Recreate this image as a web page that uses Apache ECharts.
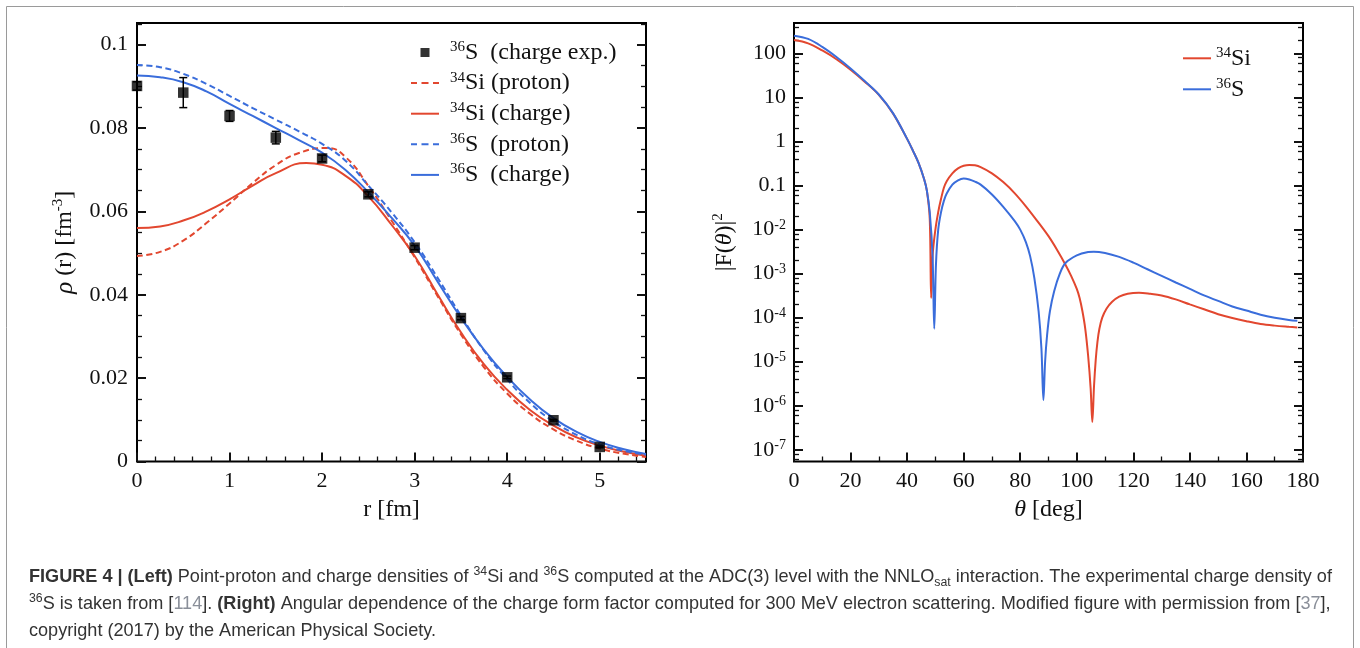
<!DOCTYPE html>
<html><head><meta charset="utf-8">
<script src="https://cdn.jsdelivr.net/npm/echarts@6/dist/echarts.min.js"></script>
<style>html,body{margin:0;padding:0;background:#fff;}#c{width:1360px;height:648px;}</style>
</head><body><div id="c"></div>
<script>
// ---------------- data ----------------
const rValues = [0,0.25,0.5,0.75,1,1.25,1.5,1.75,2,2.25,2.5,2.75,3,3.25,3.5,3.75,4,4.25,4.5,4.75,5,5.25,5.5];
const rSi34Proton = [0,0.25,0.5,0.75,1,1.25,1.5,1.75,2.05,2.25,2.5,2.75,3,3.25,3.5,3.75,4,4.25,4.5,4.75,5,5.25,5.5];
const si34Proton  = [0.0493,0.0503,0.0530,0.0572,0.0619,0.0668,0.0711,0.0740,0.0752,0.0731,0.0661,0.0578,0.0490,0.0396,0.0305,0.0226,0.0163,0.0114,0.0077,0.0050,0.0031,0.0019,0.0011];
const rSi34Charge = [0,0.25,0.5,0.75,1,1.25,1.5,1.83,2,2.25,2.5,2.75,3,3.25,3.5,3.75,4,4.25,4.5,4.75,5,5.25,5.5];
const si34Charge  = [0.0560,0.0564,0.0578,0.0600,0.0629,0.0662,0.0692,0.0716,0.0712,0.0686,0.0636,0.0568,0.0493,0.0400,0.0310,0.0233,0.0172,0.0123,0.0086,0.0058,0.0038,0.0024,0.0014];
const s36Proton  = [0.0951,0.0946,0.0930,0.0906,0.0877,0.0848,0.0820,0.0792,0.0762,0.0722,0.0662,0.0598,0.0526,0.0440,0.0350,0.0266,0.0197,0.0140,0.0096,0.0064,0.0041,0.0026,0.0016];
const s36Charge  = [0.0926,0.0922,0.0910,0.0888,0.0858,0.0829,0.0800,0.0771,0.0741,0.0700,0.0646,0.0585,0.0518,0.0431,0.0345,0.0268,0.0203,0.0148,0.0104,0.0071,0.0047,0.0030,0.0018];
const expR   = [0,0.5,1,1.5,2,2.5,3,3.5,4,4.5,5];
const expRho = [0.0901,0.0885,0.0829,0.0777,0.0727,0.0641,0.0513,0.0344,0.0202,0.0099,0.0035];
const expErr = [0.0010,0.0036,0.0013,0.0015,0.0008,0.0006,0.0005,0.0004,0.0003,0.0002,0.0002];

const thetaSi34 = [0,5,10,15,20,25,30,35,40,42,44,46,47,48,48.5,49,50,51,52,53,54,56,58,60,62,64,66,70,74,78,82,86,90,93,96,98,100,101,102,103,104,104.9,105.5,106.1,106.7,107.3,108,109,110.5,112.5,115,118,122,126,130,135,140,145,150,155,160,165,170,175,178];
const formSi34  = [202,170,117,74.1,42.7,22.9,11.5,4.37,1.15,0.631,0.331,0.141,0.0759,0.0178,2.8e-4,2.5e-3,0.010,0.025,0.050,0.089,0.126,0.19,0.245,0.282,0.295,0.288,0.263,0.19,0.120,0.0676,0.0339,0.0158,7.1e-3,3.5e-3,1.6e-3,8.9e-4,4.5e-4,2.8e-4,1.4e-4,5.6e-5,1.4e-5,2.5e-6,4.3e-7,2.8e-6,1.1e-5,2.8e-5,5.6e-5,1.0e-4,1.6e-4,2.3e-4,3.0e-4,3.5e-4,3.7e-4,3.5e-4,3.2e-4,2.6e-4,2.0e-4,1.55e-4,1.2e-4,9.8e-5,8.3e-5,7.2e-5,6.6e-5,6.2e-5,6.0e-5];
const thetaS36 = [0,5,10,15,20,25,30,35,40,42,44,46,47,48,49,49.6,50.2,51,52,53,54,56,58,60,62,64,66,70,74,78,80,82,83.5,85,86.5,87.5,88.2,88.8,89.5,90.5,92,94,96,100,104,106,110,115,120,125,130,135,140,145,150,155,160,165,170,175,178];
const formS36  = [254,214,141,83.2,45.7,23.7,11.7,4.42,1.15,0.631,0.331,0.141,0.0759,0.025,2.5e-3,5.6e-5,1.6e-3,0.010,0.025,0.045,0.066,0.105,0.132,0.145,0.138,0.123,0.105,0.063,0.033,0.0158,0.010,5.2e-3,2.5e-3,7.9e-4,1.4e-4,2.0e-5,1.35e-6,1.0e-5,4.0e-5,1.4e-4,4.0e-4,1.0e-3,1.74e-3,2.6e-3,3.1e-3,3.16e-3,2.95e-3,2.4e-3,1.78e-3,1.26e-3,8.9e-4,6.3e-4,4.5e-4,3.2e-4,2.4e-4,1.8e-4,1.45e-4,1.17e-4,1.0e-4,8.9e-5,8.5e-5];

const leftXTicks  = [0,1,2,3,4,5];
const leftYTicks  = [0,0.02,0.04,0.06,0.08,0.1];
const rightXTicks = [0,20,40,60,80,100,120,140,160,180];
const rightYTicks = [1e-7,1e-6,1e-5,1e-4,1e-3,1e-2,0.1,1,10,100];
const rightYPlainLabels = {'-1':'0.1','0':'1','1':'10','2':'100'};

const legendLabels = {
  exp: '{sup|36}S  (charge exp.)',
  si34p: '{sup|34}Si (proton)',
  si34c: '{sup|34}Si (charge)',
  s36p: '{sup|36}S  (proton)',
  s36c: '{sup|36}S  (charge)',
  Si34: '{sup|34}Si',
  S36: '{sup|36}S'
};

// ---------------- style helpers ----------------
const RED = '#e2472f', BLUE = '#3a6ddb', INK = '#111';
const SERIF = "'Liberation Serif','Times New Roman',serif";
const CAPFONT = "'Liberation Sans Narrow','Arial Narrow','Liberation Sans',Arial,sans-serif";

// minor tick positions (not data)
const leftXMinor = [], leftYMinor = [], rightXMinor = [], logMinor = [];
for (let i = 1; i <= 27; i++) if (i % 5) leftXMinor.push(+(i * 0.2).toFixed(2));
for (let i = 1; i <= 21; i++) if (i % 4) leftYMinor.push(+(i * 0.005).toFixed(3));
for (let i = 10; i < 180; i += 20) rightXMinor.push(i);
for (let k = -8; k <= 2; k++) [2,4,6,8].forEach(m => logMinor.push(+(m * Math.pow(10, k)).toPrecision(3)));

const labelStyle = {fontSize: 22, fontFamily: SERIF, color: INK};
const supRich = {sup: {fontSize: 14, fontFamily: SERIF, color: INK, verticalAlign: 'top', lineHeight: 14}};

function mkAxis(base, o) {
  return Object.assign({
    axisLine: {show: false, onZero: false},
    splitLine: {show: false},
    axisTick: {show: true, inside: true, length: o.minor ? 5 : 9, customValues: o.ticks,
      lineStyle: {color: INK, width: o.minor ? 1.3 : 2}},
    axisLabel: o.labels ? Object.assign({show: true, customValues: o.ticks, margin: 9,
      rich: supRich}, labelStyle, o.labelExtra || {}) : {show: false},
    silent: true
  }, base);
}

const LX = {min: 0, max: 5.5}, LY = {min: 0, max: 0.1052};
const RX = {min: 0, max: 180}, RY = {min: 5.42e-8, max: 492, type: 'log', logBase: 10};

const xAxis = [
  mkAxis(Object.assign({type: 'value', gridIndex: 0, position: 'bottom',
    name: 'r [fm]', nameLocation: 'middle', nameGap: 33,
    nameTextStyle: {fontSize: 24, fontFamily: SERIF, color: INK}}, LX), {ticks: leftXTicks, labels: true}),
  mkAxis(Object.assign({type: 'value', gridIndex: 0, position: 'bottom'}, LX), {ticks: leftXMinor, minor: true}),
  mkAxis(Object.assign({type: 'value', gridIndex: 1, position: 'bottom',
    name: '{i|θ} [deg]', nameLocation: 'middle', nameGap: 33,
    nameTextStyle: {fontSize: 24, fontFamily: SERIF, color: INK,
      rich: {i: {fontSize: 24, fontFamily: SERIF, fontStyle: 'italic', color: INK}}}}, RX), {ticks: rightXTicks, labels: true}),
  mkAxis(Object.assign({type: 'value', gridIndex: 1, position: 'bottom'}, RX), {ticks: rightXMinor, minor: true})
];

const yAxis = [
  mkAxis(Object.assign({type: 'value', gridIndex: 0, position: 'left',
    name: '{i|ρ} (r) [fm{sup|-3}]', nameLocation: 'middle', nameRotate: 90, nameGap: 58,
    nameTextStyle: {fontSize: 24, fontFamily: SERIF, color: INK, lineHeight: 28,
      rich: {i: {fontSize: 25, fontFamily: SERIF, fontStyle: 'italic', color: INK},
             sup: {fontSize: 15, fontFamily: SERIF, color: INK, verticalAlign: 'top', lineHeight: 14}}}}, LY),
    {ticks: leftYTicks, labels: true}),
  mkAxis(Object.assign({type: 'value', gridIndex: 0, position: 'left'}, LY), {ticks: leftYMinor, minor: true}),
  mkAxis(Object.assign({type: 'value', gridIndex: 0, position: 'right'}, LY), {ticks: leftYTicks}),
  mkAxis(Object.assign({type: 'value', gridIndex: 0, position: 'right'}, LY), {ticks: leftYMinor, minor: true}),
  mkAxis(Object.assign({gridIndex: 1, position: 'left',
    name: '|F({i|θ})|{sup|2}', nameLocation: 'middle', nameRotate: 90, nameGap: 55,
    nameTextStyle: {fontSize: 24, fontFamily: SERIF, color: INK, lineHeight: 28,
      rich: {i: {fontSize: 24, fontFamily: SERIF, fontStyle: 'italic', color: INK},
             sup: {fontSize: 15, fontFamily: SERIF, color: INK, verticalAlign: 'top', lineHeight: 14}}}}, RY),
    {ticks: rightYTicks, labels: true, labelExtra: {margin: 8, formatter: function (v) {
      const e = Math.round(Math.log10(v));
      return rightYPlainLabels[String(e)] !== undefined ? rightYPlainLabels[String(e)] : '10{sup|' + e + '}';
    }}}),
  mkAxis(Object.assign({gridIndex: 1, position: 'left'}, RY), {ticks: logMinor, minor: true}),
  mkAxis(Object.assign({gridIndex: 1, position: 'right'}, RY), {ticks: rightYTicks}),
  mkAxis(Object.assign({gridIndex: 1, position: 'right'}, RY), {ticks: logMinor, minor: true})
];

function pairs(xs, ys) { return xs.map((x, i) => [x, ys[i]]); }
function lineSeries(name, xs, ys, color, dashed, xi, yi, smooth) {
  return {type: 'line', name: name, xAxisIndex: xi, yAxisIndex: yi, data: pairs(xs, ys),
    showSymbol: false, symbol: 'none', smooth: smooth, animation: false, silent: true,
    lineStyle: {color: color, width: 2, type: dashed ? [6, 3.5] : 'solid'}, itemStyle: {color: color}};
}

const series = [
  lineSeries('si34p', rSi34Proton, si34Proton, RED, true, 0, 0, 0.5),
  lineSeries('si34c', rSi34Charge, si34Charge, RED, false, 0, 0, 0.5),
  lineSeries('s36p', rValues, s36Proton, BLUE, true, 0, 0, 0.5),
  lineSeries('s36c', rValues, s36Charge, BLUE, false, 0, 0, 0.5),
  {type: 'custom', name: 'err', xAxisIndex: 0, yAxisIndex: 0, silent: true, animation: false, z: 4,
    data: expR.map((r, i) => [r, expRho[i] - expErr[i], expRho[i] + expErr[i]]),
    renderItem: function (params, api) {
      const p1 = api.coord([api.value(0), api.value(1)]);
      const p2 = api.coord([api.value(0), api.value(2)]);
      const c = 4, st = {stroke: '#000', lineWidth: 1.5};
      return {type: 'group', children: [
        {type: 'line', shape: {x1: p1[0], y1: p1[1], x2: p2[0], y2: p2[1]}, style: st},
        {type: 'line', shape: {x1: p1[0] - c, y1: p1[1], x2: p1[0] + c, y2: p1[1]}, style: st},
        {type: 'line', shape: {x1: p2[0] - c, y1: p2[1], x2: p2[0] + c, y2: p2[1]}, style: st}
      ]};
    }},
  {type: 'scatter', name: 'exp', xAxisIndex: 0, yAxisIndex: 0, data: pairs(expR, expRho),
    symbol: 'rect', symbolSize: 10.5, itemStyle: {color: '#000'}, z: 5, animation: false, silent: true},
  lineSeries('Si34', thetaSi34, formSi34, RED, false, 2, 4, 0.35),
  lineSeries('S36', thetaS36, formS36, BLUE, false, 2, 4, 0.35)
];

const ICON_SQ = 'path://M0,0M28,14M9.5,2.5h9v9h-9z';
const ICON_DASH = 'path://M0,0M28,14M0,6h6v2h-6zM10.5,6h7v2h-7zM22,6h6v2h-6z';
const ICON_LINE = 'path://M0,0M28,14M0,6h28v2h-28z';
const supRichL = {sup: {fontSize: 15, fontFamily: SERIF, color: INK, verticalAlign: 'top', lineHeight: 15}};
const legend = [
  {left: 411, top: 39.5, orient: 'vertical', padding: 0, itemWidth: 28, itemHeight: 14, itemGap: 4.6,
   selectedMode: false, itemStyle: {borderWidth: 0},
   textStyle: {fontSize: 24, fontFamily: SERIF, color: INK, lineHeight: 26, padding: [0, 0, 0, 6], rich: supRichL},
   formatter: n => legendLabels[n],
   data: [{name: 'exp', icon: ICON_SQ}, {name: 'si34p', icon: ICON_DASH}, {name: 'si34c', icon: ICON_LINE},
          {name: 's36p', icon: ICON_DASH}, {name: 's36c', icon: ICON_LINE}]},
  {left: 1183, top: 45.3, orient: 'vertical', padding: 0, itemWidth: 28, itemHeight: 14, itemGap: 5,
   selectedMode: false, itemStyle: {borderWidth: 0},
   textStyle: {fontSize: 24, fontFamily: SERIF, color: INK, lineHeight: 26, rich: supRichL},
   formatter: n => legendLabels[n],
   data: [{name: 'Si34', icon: ICON_LINE}, {name: 'S36', icon: ICON_LINE}]}
];

// ---------------- caption ----------------
const cctx = document.createElement('canvas').getContext('2d');
function mw(font, s) { cctx.font = font; return cctx.measureText(s).width; }
const capW = mw('bold 100px ' + CAPFONT, 'FIGURE 4 | (Left) ') +
  mw('100px ' + CAPFONT, 'Point-proton and charge densities of Si and S computed at the ADC(3) level with the NNLO interaction. The experimental charge density of') +
  mw('68px ' + CAPFONT, '3436sat');
const capSize = Math.round(100 * 1300 / capW * 10) / 10;
const capRich = {
  b: {fontWeight: 'bold', fontSize: capSize, fontFamily: CAPFONT, fill: '#333'},
  sup: {fontSize: capSize * 0.68, fontFamily: CAPFONT, fill: '#333', verticalAlign: 'top', lineHeight: capSize * 0.7},
  sub: {fontSize: capSize * 0.68, fontFamily: CAPFONT, fill: '#333', verticalAlign: 'bottom', lineHeight: capSize * 0.7},
  ln: {fontSize: capSize, fontFamily: CAPFONT, fill: '#8a8f99'}
};
const capLines = [
  '{b|FIGURE 4 | (Left)} Point-proton and charge densities of {sup|34}Si and {sup|36}S computed at the ADC(3) level with the NNLO{sub|sat} interaction. The experimental charge density of',
  '{sup|36}S is taken from [{ln|114}]. {b|(Right)} Angular dependence of the charge form factor computed for 300 MeV electron scattering. Modified figure with permission from [{ln|37}],',
  'copyright (2017) by the American Physical Society.'
];
const capY = [577, 604, 631];
const graphic = [
  {type: 'rect', shape: {x: 6.5, y: 6.5, width: 1347, height: 700}, style: {fill: 'none', stroke: '#9a9a9a', lineWidth: 1}, silent: true},
].concat(capLines.map((t, i) => ({type: 'text', x: 29, y: capY[i], silent: true,
  style: {text: t, rich: capRich, fontSize: capSize, fontFamily: CAPFONT, fill: '#333',
    verticalAlign: 'middle', lineHeight: capSize * 1.3}})));

const chart = echarts.init(document.getElementById('c'), null, {renderer: 'canvas'});
chart.setOption({
  backgroundColor: '#fff',
  animation: false,
  grid: [
    {left: 137, top: 23, width: 509, height: 438.5, show: true, borderColor: '#000', borderWidth: 2, backgroundColor: 'transparent', containLabel: false, outerBoundsMode: 'none'},
    {left: 794, top: 23, width: 509, height: 438.5, show: true, borderColor: '#000', borderWidth: 2, backgroundColor: 'transparent', containLabel: false, outerBoundsMode: 'none'}
  ],
  xAxis: xAxis,
  yAxis: yAxis,
  legend: legend,
  series: series,
  graphic: graphic
});
</script></body></html>
